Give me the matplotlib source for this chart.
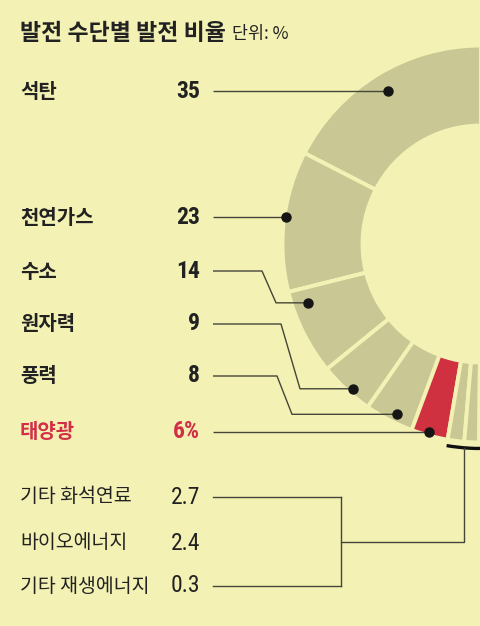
import numpy as np
import matplotlib.pyplot as plt
from matplotlib import font_manager as fm
from matplotlib.patches import Arc

# data
labels_main = ['석탄', '천연가스', '수소', '원자력', '풍력', '태양광']
values_main = [35, 23, 14, 9, 8, 6]
texts_main = ['35', '23', '14', '9', '8', '6%']
labels_etc = ['기타 화석연료', '바이오에너지', '기타 재생에너지']
values_etc = [2.7, 2.4, 0.3]
texts_etc = ['2.7', '2.4', '0.3']

BG = '#F3F2B4'
GREY = '#C9C895'
RED = '#CF3140'
RED_TXT = '#D22E47'
INK = '#222222'
LINE = '#45453a'

plt.rcParams['font.family'] = ['Noto Sans CJK KR', 'DejaVu Sans']


# look for a narrow latin face for the numbers
def narrow_font(bold):
    prefs = ['Roboto Condensed', 'Liberation Sans Narrow', 'DejaVu Sans', 'Noto Sans',
             'Open Sans']
    found = []
    for f in fm.fontManager.ttflist:
        w = f.weight if isinstance(f.weight, int) else fm.weight_dict.get(f.weight, 400)
        narrow = ('Condensed' in f.name or 'Narrow' in f.name or
                  f.stretch in ('condensed', 'semi-condensed', 'extra-condensed'))
        if not narrow or 'Italic' in f.fname or f.style != 'normal':
            continue
        if bold and not (600 <= w <= 800):
            continue
        if not bold and not (350 <= w <= 500):
            continue
        rank = prefs.index(f.name) if f.name in prefs else len(prefs)
        found.append((rank, abs(w - (700 if bold else 400)), f.fname))
    if found:
        return sorted(found)[0][2]
    return None


NUM_BOLD = narrow_font(True)
NUM_REG = narrow_font(False)


def num_props(bold, size):
    path = NUM_BOLD if bold else NUM_REG
    if path:
        return fm.FontProperties(fname=path, size=size)
    return fm.FontProperties(family=['Noto Sans CJK KR'], size=size * 0.95,
                             weight='bold' if bold else 'normal')


W, H = 480, 626
fig = plt.figure(figsize=(4.8, 6.26), dpi=100)
fig.patch.set_facecolor(BG)
ax = fig.add_axes([0, 0, 1, 1])
ax.set_facecolor(BG)


def Y(y):  # pixel row (top-down) -> data y
    return H - y


cx, cy = 481, Y(244)
R, ring = 198.5, 80

vals = values_main + values_etc
total = sum(vals)
cols = [GREY] * 5 + [RED] + [GREY] * 3 + ['none']
wedges, _ = ax.pie(vals + [total], colors=cols, startangle=90, counterclock=True,
                   radius=R, center=(cx, cy),
                   wedgeprops=dict(width=ring, edgecolor=BG, linewidth=2.8))
wedges[-1].set_visible(False)

ax.set_xlim(0, W)
ax.set_ylim(0, H)
ax.set_aspect('equal')
ax.axis('off')

# title
t = ax.text(20, Y(33), '발전 수단별 발전 비율', fontsize=16.5, fontweight='bold',
            color=INK, va='center', ha='left')
fig.canvas.draw()
bb = t.get_window_extent().transformed(ax.transData.inverted())
ax.text(bb.x1 + 6, Y(34), '단위: %', fontsize=12.5, color=INK, va='center', ha='left')

# label rows
rows_main = [91, 217, 271, 324, 376, 432]
rows_etc = [497, 543, 586]
x0 = 213

for i, (lab, txt) in enumerate(zip(labels_main, texts_main)):
    c = RED_TXT if lab == '태양광' else INK
    ax.text(20, Y(rows_main[i]), lab, fontsize=14.4, fontweight='bold', color=c,
            va='center', ha='left')
    ax.text(200, Y(rows_main[i]), txt, color=c, fontproperties=num_props(True, 17),
            va='center', ha='right')

for i, (lab, txt) in enumerate(zip(labels_etc, texts_etc)):
    ax.text(20, Y(rows_etc[i]), lab, fontsize=14, color=INK, va='center', ha='left')
    ax.text(200, Y(rows_etc[i]), txt, color=INK, fontproperties=num_props(False, 17),
            va='center', ha='right')

# leader lines and dots
anchor_frac = [0.5, 0.47, 0.19, 0.59, 0.59, 0.47]
anchor_r = [None, None, 183, 193, 190, None]
elbows = [None, None, (262, 276), (281, 300), (277, 292), None]

for i in range(len(labels_main)):
    w = wedges[i]
    th = np.deg2rad(w.theta1 + anchor_frac[i] * (w.theta2 - w.theta1))
    ly = Y(rows_main[i])
    if anchor_r[i] is None:
        r = (ly - cy) / np.sin(th)
    else:
        r = anchor_r[i]
    dx, dy = cx + r * np.cos(th), cy + r * np.sin(th)
    if elbows[i] is None:
        xs, ys = [x0, dx], [ly, ly]
    else:
        e1, e2 = elbows[i]
        xs, ys = [x0, e1, e2, dx], [ly, ly, dy, dy]
    ax.plot(xs, ys, color=LINE, lw=1.0, solid_capstyle='butt')
    ax.plot(dx, dy, 'o', color='#151515', ms=6.5)

# bracket for the small items
th1 = wedges[6].theta1
th2 = wedges[8].theta2
ra = 204.5
ax.add_patch(Arc((cx, cy), 2 * ra, 2 * ra, theta1=th1, theta2=th2 + 3,
                 color='#111111', lw=2.4))
thm = np.deg2rad((th1 + th2) / 2)
ax_x, ax_y = cx + ra * np.cos(thm), cy + ra * np.sin(thm)
bx = 341
ymid = (Y(rows_etc[0]) + Y(rows_etc[2])) / 2
for j in (0, 2):
    ax.plot([x0, bx], [Y(rows_etc[j])] * 2, color=LINE, lw=1.0)
ax.plot([bx, bx], [Y(rows_etc[0]), Y(rows_etc[2])], color=LINE, lw=1.0)
ax.plot([bx, ax_x, ax_x], [ymid, ymid, ax_y], color=LINE, lw=1.0)

fig.savefig('out.png', dpi=100, facecolor=BG)
